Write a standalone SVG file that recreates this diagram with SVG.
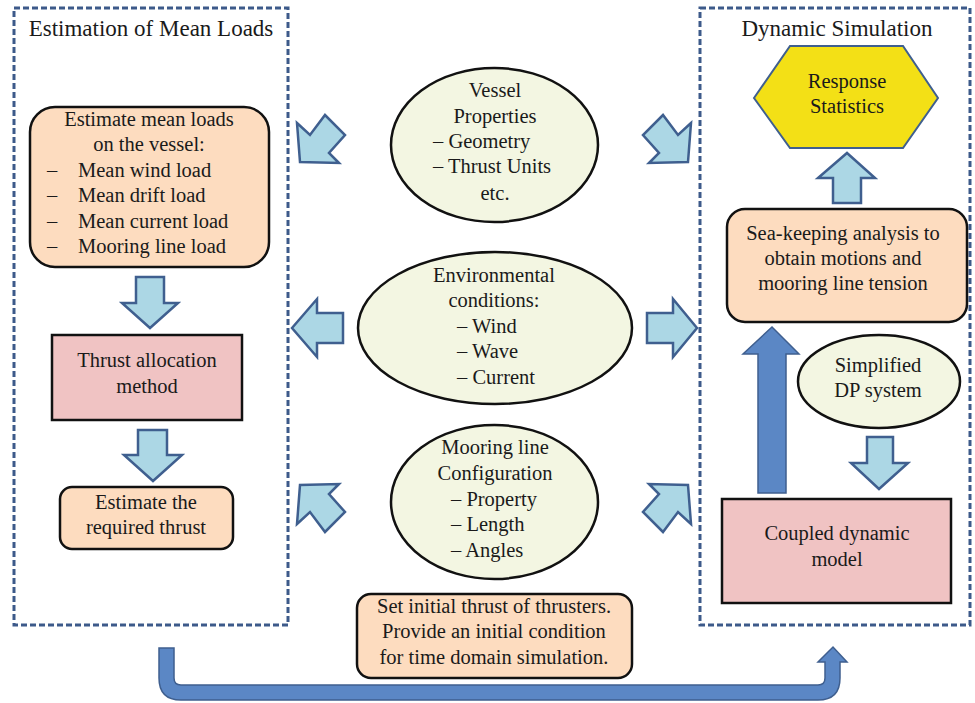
<svg xmlns="http://www.w3.org/2000/svg" width="975" height="703" viewBox="0 0 975 703">
<style>
  text { font-family: "Liberation Serif", "Times New Roman", serif; font-size: 20.5px; fill: #1a1a1a; }
  .title { font-size: 23px; }
  .c { text-anchor: middle; }
  .frame { fill: none; stroke: #3D5A8A; stroke-width: 3; stroke-dasharray: 6 3; }
  .peach { fill: #FDDCBF; stroke: #111; stroke-width: 2.5; }
  .pink { fill: #F0C3C3; stroke: #111; stroke-width: 2.5; }
  .ell { fill: #F3F6E2; stroke: #111; stroke-width: 2.5; }
  .hex { fill: #F3E016; stroke: #3F5F8F; stroke-width: 2; }
  .lb { fill: #ACD7E5; stroke: #3F5F8F; stroke-width: 2.5; stroke-linejoin: miter; }
  .db { fill: #5B87C5; stroke: #3F5F8F; stroke-width: 1.5; }
</style>
<rect width="975" height="703" fill="#ffffff"/>

<g id="frame-mean-loads">
  <rect class="frame" x="14" y="8" width="274" height="617"/>
  <text class="title c" x="151" y="36">Estimation of Mean Loads</text>
</g>
<g id="frame-dynamic">
  <rect class="frame" x="700" y="8" width="270" height="617"/>
  <text class="title c" x="837" y="36">Dynamic Simulation</text>
</g>

<g id="connectors">
  <!-- left column down arrows -->
  <polygon class="lb" points="136,277 164,277 164,303 178,303 150,328 122,303 136,303"/>
  <polygon class="lb" points="138,430 167,430 167,455 182,455 153,481 124,455 138,455"/>
  <!-- diagonal / side arrows -->
  <polygon class="lb" points="297,123 310,135 325,115 345,135 329,153 339,163 300,162"/>
  <polygon class="lb" points="691,123 678,135 663,115 643,135 659,153 649,163 688,162"/>
  <polygon class="lb" points="292,328 317,299 317,313 343,313 343,343 317,343 317,357"/>
  <polygon class="lb" points="697,328 673,299 673,313 647,313 647,343 673,343 673,357"/>
  <polygon class="lb" points="297,524 310,512 325,532 345,512 329,494 339,484 300,485"/>
  <polygon class="lb" points="691,524 678,512 663,532 643,512 659,494 649,484 688,485"/>
  <!-- right column -->
  <polygon class="lb" points="833,203 861,203 861,178 875,178 847,153 818,178 833,178"/>
  <polygon class="lb" points="867,437 893,437 893,463 908,463 879,489 851,463 867,463"/>
  <polygon class="db" points="758,493 786,493 786,354 799,354 772,327 743,354 758,354"/>
  <!-- bottom U arrow -->
  <path class="db" d="M159,648 L159,678 Q159,700 181,700 L818,700 Q840,700 840,678 L840,662 L847,662 L833,647 L818,662 L825,662 L825,678 Q825,685 818,685 L181,685 Q174,685 174,678 L174,648 Z"/>
</g>

<g id="node-mean-loads">
  <rect class="peach" x="30" y="107" width="239" height="160" rx="25"/>
  <text class="c" x="149" y="126">Estimate mean loads</text>
  <text class="c" x="149" y="151">on the vessel:</text>
  <text x="47" y="177">–</text><text x="78" y="177">Mean wind load</text>
  <text x="47" y="202">–</text><text x="78" y="202">Mean drift load</text>
  <text x="47" y="228">–</text><text x="78" y="228">Mean current load</text>
  <text x="47" y="253">–</text><text x="78" y="253">Mooring line load</text>
</g>

<g id="node-thrust-allocation">
  <rect class="pink" x="52" y="335" width="190" height="85"/>
  <text class="c" x="147" y="367">Thrust allocation</text>
  <text class="c" x="147" y="393">method</text>
</g>

<g id="node-required-thrust">
  <rect class="peach" x="60" y="487" width="173" height="62" rx="12"/>
  <text class="c" x="146" y="509">Estimate the</text>
  <text class="c" x="146" y="534">required thrust</text>
</g>

<g id="node-vessel">
  <ellipse class="ell" cx="494.5" cy="145" rx="103.5" ry="77"/>
  <text class="c" x="495" y="97">Vessel</text>
  <text class="c" x="495" y="123">Properties</text>
  <text x="433" y="148">– Geometry</text>
  <text x="433" y="173">– Thrust Units</text>
  <text class="c" x="495" y="200">etc.</text>
</g>

<g id="node-environment">
  <ellipse class="ell" cx="495" cy="328" rx="137" ry="76"/>
  <text class="c" x="494" y="282">Environmental</text>
  <text class="c" x="494" y="307">conditions:</text>
  <text x="457" y="333">– Wind</text>
  <text x="457" y="358">– Wave</text>
  <text x="457" y="384">– Current</text>
</g>

<g id="node-mooring">
  <ellipse class="ell" cx="494.5" cy="502" rx="103.5" ry="77"/>
  <text class="c" x="495" y="454">Mooring line</text>
  <text class="c" x="495" y="480">Configuration</text>
  <text x="451" y="506">– Property</text>
  <text x="451" y="531">– Length</text>
  <text x="451" y="557">– Angles</text>
</g>

<g id="node-initial-thrust">
  <rect class="peach" x="357" y="594" width="275" height="84" rx="14"/>
  <text class="c" x="494" y="613">Set initial thrust of thrusters.</text>
  <text class="c" x="494" y="638">Provide an initial condition</text>
  <text class="c" x="494" y="664">for time domain simulation.</text>
</g>

<g id="node-response">
  <polygon class="hex" points="754,98 790,46 903,46 938,98 903,148 790,148"/>
  <text class="c" x="847" y="88">Response</text>
  <text class="c" x="847" y="113">Statistics</text>
</g>

<g id="node-seakeeping">
  <rect class="peach" x="727" y="209" width="240" height="113" rx="18"/>
  <text class="c" x="843" y="240">Sea-keeping analysis to</text>
  <text class="c" x="843" y="265">obtain motions and</text>
  <text class="c" x="843" y="290">mooring line tension</text>
</g>

<g id="node-dp">
  <ellipse class="ell" cx="879" cy="381.5" rx="81" ry="46.5"/>
  <text class="c" x="878" y="372">Simplified</text>
  <text class="c" x="878" y="397">DP system</text>
</g>

<g id="node-coupled">
  <rect class="pink" x="722" y="499" width="229" height="104"/>
  <text class="c" x="837" y="540">Coupled dynamic</text>
  <text class="c" x="837" y="566">model</text>
</g>
</svg>
